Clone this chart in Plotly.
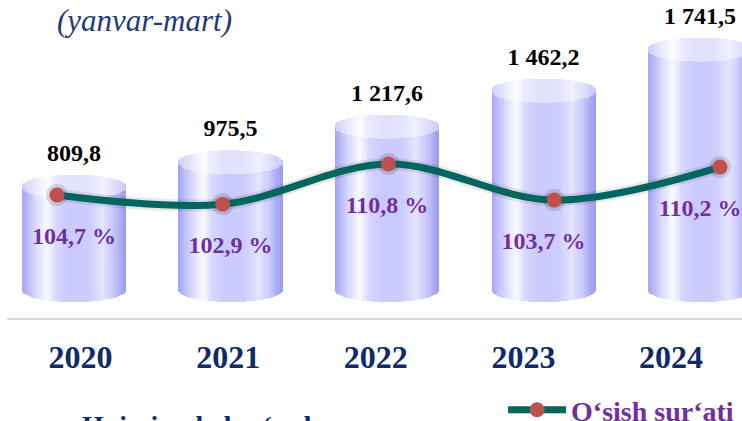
import numpy as np
import plotly.graph_objects as go

# ---------------- data ----------------
YEARS = ["2020", "2021", "2022", "2023", "2024"]
VOLUME = [809.8, 975.5, 1217.6, 1462.2, 1741.5]
VOLUME_LABELS = ["809,8", "975,5", "1 217,6", "1 462,2", "1 741,5"]
GROWTH = [104.7, 102.9, 110.8, 103.7, 110.2]
GROWTH_LABELS = ["104,7 %", "102,9 %", "110,8 %", "103,7 %", "110,2 %"]
TITLE = "(yanvar-mart)"
SERIES_VOLUME = "Hajmi, mlrd so‘mda"
SERIES_GROWTH = "O‘sish sur‘ati"

# ---------------- styling / geometry ----------------
SERIF = "Liberation Serif, Times New Roman, serif"
FIG_W, FIG_H = 742, 421
PLOT_H = 318          # plot-area height in px
Y_RANGE = [-82.2, 2078.1]
Y2_RANGE = [80.49, 143.09]
X_BAR_RANGE = [-0.428, 4.268]
X_LINE_RANGE = [-0.3017, 4.133]
X_TICK_RANGE = [-0.4987, 4.481]
BAR_FLOOR = 108.0     # value at which the cylinders stand
BAR_W = 0.665         # cylinder width (category units)
CAP_PX = 12           # half height of the ellipses in px
N = 48                # vertical shading stripes

PX_Y = PLOT_H / (Y_RANGE[1] - Y_RANGE[0])
PX_Y2 = PLOT_H / (Y2_RANGE[1] - Y2_RANGE[0])
CAP = CAP_PX / PX_Y

STOPS = [
    (0.00, (160, 160, 242)),
    (0.06, (186, 186, 250)),
    (0.16, (224, 224, 255)),
    (0.25, (250, 250, 255)),
    (0.33, (216, 216, 255)),
    (0.45, (202, 202, 255)),
    (0.65, (204, 204, 255)),
    (0.78, (228, 228, 255)),
    (0.88, (202, 202, 252)),
    (1.00, (155, 155, 240)),
]


def shade(u, lighten=0.0):
    for (a, ca), (b, cb) in zip(STOPS[:-1], STOPS[1:]):
        if a <= u <= b:
            t = (u - a) / (b - a)
            c = [ca[i] + (cb[i] - ca[i]) * t for i in range(3)]
            break
    c = [ci + (255 - ci) * lighten for ci in c]
    return "rgb(%d,%d,%d)" % tuple(int(round(ci)) for ci in c)


fig = go.Figure()

dw = BAR_W / N
body_traces, cap_traces = [], []
for k in range(N):
    u0, u1, uc = k / N, (k + 1) / N, (k + 0.5) / N
    s = np.sqrt(max(0.0, 1 - (2 * uc - 1) ** 2))
    left = max(-BAR_W / 2, -BAR_W / 2 + u0 * BAR_W - 0.35 * dw)
    right = min(BAR_W / 2, -BAR_W / 2 + u1 * BAR_W + 0.35 * dw)
    common = dict(x=YEARS, offset=left, width=right - left, xaxis="x", yaxis="y",
                  showlegend=False, hoverinfo="skip", marker_line_width=0)
    body_traces.append(go.Bar(y=[v - BAR_FLOOR for v in VOLUME], base=BAR_FLOOR - CAP * s,
                              marker_color=shade(uc), **common))
    cap_traces.append(go.Bar(y=[2 * CAP * s] * len(VOLUME), base=[v - CAP * s for v in VOLUME],
                             marker_color=shade(uc, 0.45), **common))
for t in body_traces + cap_traces:
    fig.add_trace(t)

# value labels above the cylinders
fig.add_trace(go.Scatter(x=YEARS, y=[v + 32 / PX_Y for v in VOLUME], xaxis="x", yaxis="y",
                         mode="text", text=VOLUME_LABELS, textposition="middle center",
                         textfont=dict(family=SERIF, size=24, color="black", weight="bold"),
                         cliponaxis=False, showlegend=False, hoverinfo="skip"))

# dummy trace carrying the year tick axis
fig.add_trace(go.Scatter(x=YEARS, y=[None] * len(YEARS), xaxis="x3", yaxis="y",
                         mode="markers", showlegend=False, hoverinfo="skip"))

# shadow of growth line
fig.add_trace(go.Scatter(x=YEARS, y=GROWTH, xaxis="x2", yaxis="y2", mode="lines+markers",
                         line=dict(shape="spline", smoothing=1.0, width=12, color="rgba(0,0,0,0.09)"),
                         marker=dict(size=22, color="rgba(0,0,0,0.13)"),
                         showlegend=False, hoverinfo="skip"))
# growth line
fig.add_trace(go.Scatter(x=YEARS, y=GROWTH, xaxis="x2", yaxis="y2", mode="lines+markers",
                         name=SERIES_GROWTH,
                         line=dict(shape="spline", smoothing=1.0, width=7, color="#00665E"),
                         marker=dict(size=15, color="#C0504D"),
                         hoverinfo="skip"))

# growth-rate labels inside the cylinders
fig.add_trace(go.Scatter(x=YEARS, y=[g - 43 / PX_Y2 for g in GROWTH], xaxis="x", yaxis="y2",
                         mode="text", text=GROWTH_LABELS, textposition="middle center",
                         textfont=dict(family=SERIF, size=24, color="#7030A0", weight="bold"),
                         cliponaxis=False, showlegend=False, hoverinfo="skip"))

annotations = [
    dict(x=0.1864, y=0.937, xref="paper", yref="paper", text=TITLE,
         showarrow=False, xanchor="center", yanchor="middle",
         font=dict(family=SERIF, size=31, color="#1F3A7A", style="italic")),
    dict(x=0.0993, y=-0.283, xref="paper", yref="paper", text=SERIES_VOLUME,
         showarrow=False, xanchor="left", yanchor="top",
         font=dict(family=SERIF, size=28, color="#102A6B", weight="bold")),
]

fig.update_layout(
    width=FIG_W, height=FIG_H,
    margin=dict(l=7, r=0, t=0, b=FIG_H - PLOT_H, autoexpand=False),
    paper_bgcolor="white", plot_bgcolor="rgba(0,0,0,0)",
    barmode="overlay",
    bargap=0,
    xaxis=dict(type="category", categoryarray=YEARS, range=X_BAR_RANGE, showgrid=False,
               zeroline=False, showticklabels=False, ticks="",
               showline=True, linecolor="#D9D9D9", linewidth=2),
    xaxis2=dict(type="category", categoryarray=YEARS, range=X_LINE_RANGE, overlaying="x",
                anchor="y2", visible=False),
    xaxis3=dict(type="category", categoryarray=YEARS, range=X_TICK_RANGE, overlaying="x",
                anchor="y", side="bottom", showgrid=False, zeroline=False, showline=False,
                ticks="", ticklabelstandoff=17,
                tickfont=dict(family=SERIF, size=32, color="#102A6B", weight="bold")),
    yaxis=dict(range=Y_RANGE, visible=False, showgrid=False, zeroline=False),
    yaxis2=dict(range=Y2_RANGE, overlaying="y", anchor="x2", visible=False),
    annotations=annotations,
    showlegend=True,
    legend=dict(x=0.678, y=0.026, xref="container", yref="container",
                xanchor="left", yanchor="middle", orientation="h",
                bgcolor="rgba(0,0,0,0)", itemwidth=58,
                font=dict(family=SERIF, size=28, color="#7030A0", weight="bold")),
)

fig.write_html("out.html", config={"displayModeBar": False},
               post_script="document.body.style.margin='0px';")
